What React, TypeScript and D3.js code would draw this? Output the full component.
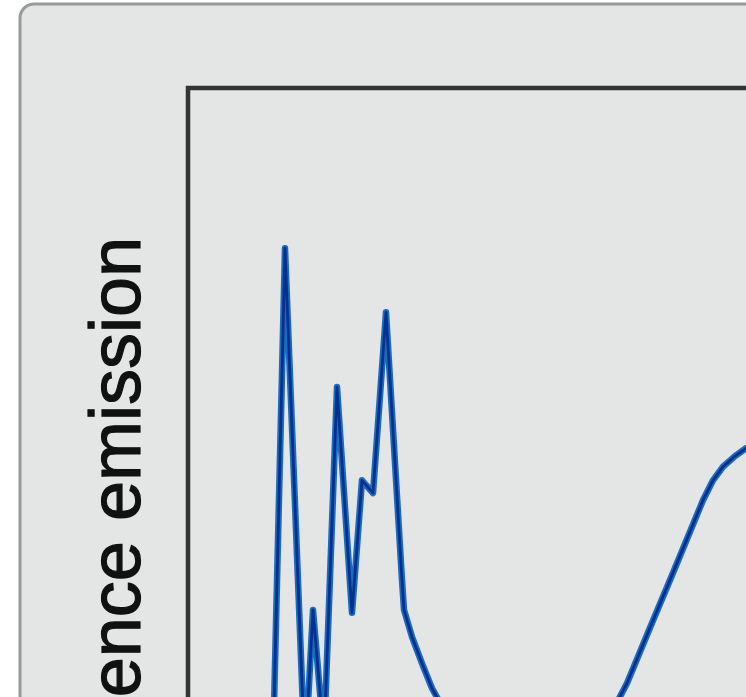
import React from "react";
import * as d3 from "d3";

// emission spectrum (wavelength in nm, normalised emission)
const wavelength = [
  371.25, 374.5, 379.5, 381.5, 384.25, 387.5, 391.25, 393.75, 396.5, 399.75,
  403.75, 404.25, 406.25, 408.75, 411.25, 414.5, 420.75, 433.25, 445.75,
  453.25, 460, 465.75, 471.5, 479, 481.5, 484, 487, 489.75, 495.75,
];
const emission = [
  0.014, 0.775, 0.056, 0.267, 0.084, 0.58, 0.263, 0.449, 0.431, 0.685,
  0.309, 0.267, 0.229, 0.192, 0.157, 0.124, 0.091, 0.077, 0.087,
  0.091, 0.164, 0.242, 0.319, 0.421, 0.449, 0.468, 0.483, 0.494, 0.51,
];
const yLabel = "Fluorescence emission";

const W = 746,
  H = 697;

export default function App() {
  const margin = { top: 88, left: 188 };
  const x = d3.scaleLinear().domain([350, 490]).range([margin.left - 1, 747]);
  const y = d3.scaleLinear().domain([0, 1]).range([800, margin.top]);

  const pts = wavelength.map((w, i) => [w, emission[i]] as [number, number]);
  const line = d3
    .line<[number, number]>()
    .x((d) => x(d[0]))
    .y((d) => y(d[1]))
    .curve(d3.curveLinear);
  const d = line(pts) || "";

  return (
    <svg
      width={W}
      height={H}
      style={{ position: "absolute", left: 0, top: 0, background: "#fff" }}
    >
      <defs>
        <clipPath id="plot">
          <rect x={margin.left} y={margin.top} width={W} height={H} />
        </clipPath>
      </defs>
      <rect
        x={20}
        y={4}
        width={W + 40}
        height={H + 40}
        rx={14}
        fill="#e4e5e5"
        stroke="#9a9a9a"
        strokeWidth={3}
      />
      <g clipPath="url(#plot)">
        <path d={d} fill="none" stroke="#1a6cc0" strokeWidth={6.5} strokeLinejoin="round" />
        <path d={d} fill="none" stroke="#06308e" strokeWidth={2.8} strokeLinejoin="round" />
      </g>
      <path
        d={`M${margin.left},${H + 10}V${margin.top}H${W + 10}`}
        fill="none"
        stroke="#333"
        strokeWidth={4.5}
      />
      <text
        transform="translate(140,237) rotate(-90)"
        textAnchor="end"
        fontFamily="Liberation Sans, Arial, sans-serif"
        fontSize={72}
        fill="#111"
        stroke="#111"
        strokeWidth={1.2}
      >
        {yLabel}
      </text>
    </svg>
  );
}
